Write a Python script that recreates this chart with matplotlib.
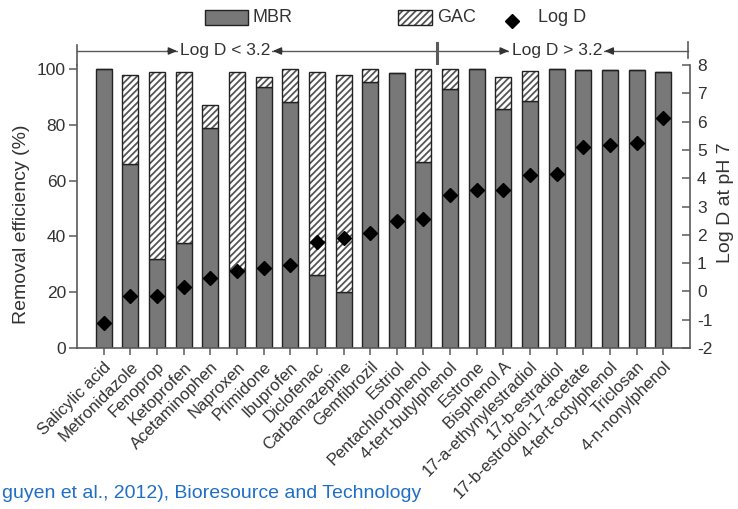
import matplotlib
matplotlib.use("Agg")
import matplotlib.pyplot as plt
from matplotlib.patches import Rectangle
from matplotlib.lines import Line2D
import numpy as np

plt.rcParams['font.family'] = ['Liberation Sans', 'DejaVu Sans']
plt.rcParams['hatch.linewidth'] = 1.3
plt.rcParams['axes.unicode_minus'] = False

categories = ["Salicylic acid", "Metronidazole", "Fenoprop", "Ketoprofen", "Acetaminophen",
              "Naproxen", "Primidone", "Ibuprofen", "Diclofenac", "Carbamazepine",
              "Gemfibrozil", "Estriol", "Pentachlorophenol", "4-tert-butylphenol", "Estrone",
              "Bisphenol A", "17-a-ethynylestradiol", "17-b-estradiol",
              "17-b-estrodiol-17-acetate", "4-tert-octylphenol", "Triclosan", "4-n-nonylphenol"]
mbr = [100, 66, 32, 37.5, 79, 28, 93.5, 88, 26, 20, 95.5, 98.5, 66.5, 93, 100, 85.6, 88.6,
       100, 99.5, 99.7, 99.7, 98.8]
gac = [0, 32, 67, 61.5, 8, 71, 3.5, 12, 73, 78, 4.5, 0, 33.5, 7, 0, 11.4, 10.7,
       0, 0, 0, 0, 0]
logd = [-1.13, -0.15, -0.15, 0.17, 0.46, 0.72, 0.84, 0.93, 1.76, 1.88, 2.05, 2.5, 2.56,
        3.4, 3.58, 3.58, 4.11, 4.15, 5.11, 5.16, 5.25, 6.12]
left_ticks = [0, 20, 40, 60, 80, 100]
right_ticks = [-2, -1, 0, 1, 2, 3, 4, 5, 6, 7, 8]

W, H = 738, 509
fig = plt.figure(figsize=(W / 100, H / 100), dpi=100)
ax = fig.add_axes([77 / W, 1 - 348 / H, 613 / W, 283 / H])

def fx(px):
    return px / W

def fy(py):
    return 1 - py / H

x = np.arange(len(categories))
mbr_a = np.array(mbr)
gac_a = np.array(gac)

spine_c = '#5a5a5a'
edge_c = '#222222'
hatch_c = '#555555'
ax.bar(x, mbr_a, width=0.6, color='#787878', edgecolor=edge_c, linewidth=1.0, zorder=2)
ax.bar(x, gac_a, bottom=mbr_a, width=0.6, color='white', edgecolor=hatch_c,
       hatch='/////', linewidth=0, zorder=2)
ax.bar(x, gac_a, bottom=mbr_a, width=0.6, fill=False, edgecolor=edge_c, linewidth=1.0, zorder=3)

ax.set_xlim(-1, 22)
ax.set_ylim(0, 100 * 283 / 279)
ax.set_yticks(left_ticks)
ax.set_xticks(x)
ax.set_xticklabels(categories, rotation=45, ha='right', rotation_mode='anchor',
                   fontsize=12, color='#333333')
ax.tick_params(axis='y', direction='out', length=6, width=1.1, color=spine_c,
               labelsize=12.5, labelcolor='#333333', pad=2)
ax.tick_params(axis='x', direction='out', length=5, width=1.1, color=spine_c, pad=3)
for s in ['top', 'right']:
    ax.spines[s].set_visible(False)
for s in ['left', 'bottom']:
    ax.spines[s].set_color(spine_c)
    ax.spines[s].set_linewidth(1.2)

ax2 = ax.twinx()
ax2.plot(x, logd, linestyle='none', marker='D', markersize=7, color='black', zorder=5)
ax2.set_ylim(-2, 8)
ax2.set_yticks(right_ticks)
ax2.tick_params(axis='y', direction='in', length=6, width=1.1, color=spine_c,
                labelsize=12.5, labelcolor='#333333', pad=5)
for s in ['top', 'left', 'bottom']:
    ax2.spines[s].set_visible(False)
ax2.spines['right'].set_color(spine_c)
ax2.spines['right'].set_linewidth(1.2)

fig.text(fx(22), fy(224), 'Removal efficiency (%)', fontsize=14, color='#333333',
         rotation=90, ha='center', va='center')
fig.text(fx(726), fy(203), 'Log D at pH 7', fontsize=14, color='#333333',
         rotation=90, ha='center', va='center')

# Top bracket annotations
trans = ax.get_xaxis_transform()
yl = (348 - 51) / 283
ax.plot([-1, -1], [1.0, (348 - 45) / 283], color=spine_c, lw=1.2, transform=trans, clip_on=False)
ax.plot([-1, 12.5], [yl, yl], color=spine_c, lw=1.0, transform=trans, clip_on=False, zorder=1)
ax.plot([12.5, 21.92], [yl, yl], color=spine_c, lw=1.0, transform=trans, clip_on=False, zorder=1)
ax.plot([12.5, 12.5], [(348 - 63) / 283, (348 - 43) / 283], color=spine_c, lw=2.2,
        transform=trans, clip_on=False)
ax.plot([21.92, 21.92], [(348 - 58) / 283, (348 - 42) / 283], color=spine_c, lw=1.2,
        transform=trans, clip_on=False)

def bracket_label(text, xc):
    ap = dict(arrowstyle='-|>,head_length=0.5,head_width=0.22', color='#333333', lw=1.0,
              shrinkA=0, shrinkB=1)
    t = ax.text(xc, yl, text, transform=trans, ha='center', va='center', fontsize=12.5,
                color='#333333',
                bbox=dict(facecolor='white', edgecolor='none', pad=1.5))
    fig.canvas.draw()
    bb = t.get_window_extent().transformed(ax.transData.inverted())
    ax.annotate('', xy=(bb.x0 - 0.05, yl), xycoords=trans, xytext=(bb.x0 - 0.45, yl),
                textcoords=trans, arrowprops=ap, annotation_clip=False)
    ax.annotate('', xy=(bb.x1 + 0.05, yl), xycoords=trans, xytext=(bb.x1 + 0.45, yl),
                textcoords=trans, arrowprops=ap, annotation_clip=False)

bracket_label('Log D < 3.2', 4.55)
bracket_label('Log D > 3.2', 17.0)

# Legend (figure coords)
fig.add_artist(Rectangle((fx(205), fy(25)), 43 / W, 15 / H, transform=fig.transFigure,
                         facecolor='#787878', edgecolor=edge_c, lw=1.0))
fig.text(fx(252), fy(18), 'MBR', fontsize=13, va='center', ha='left', color='#333333')
fig.add_artist(Rectangle((fx(398), fy(25)), 34 / W, 15 / H, transform=fig.transFigure,
                         facecolor='white', edgecolor=hatch_c, hatch='/////', lw=0))
fig.add_artist(Rectangle((fx(398), fy(25)), 34 / W, 15 / H, transform=fig.transFigure,
                         fill=False, edgecolor=edge_c, lw=1.0))
fig.text(fx(437), fy(18), 'GAC', fontsize=13, va='center', ha='left', color='#333333')
fig.add_artist(Line2D([fx(512)], [fy(21)], marker='D', markersize=7, color='black',
                      linestyle='none', transform=fig.transFigure))
fig.text(fx(538), fy(18), 'Log D', fontsize=13, va='center', ha='left', color='#333333')

fig.text(fx(2), fy(494), 'guyen et al., 2012), Bioresource and Technology', fontsize=14,
         color='#1f6fc8', va='center', ha='left')

fig.savefig('out.png', dpi=100)
